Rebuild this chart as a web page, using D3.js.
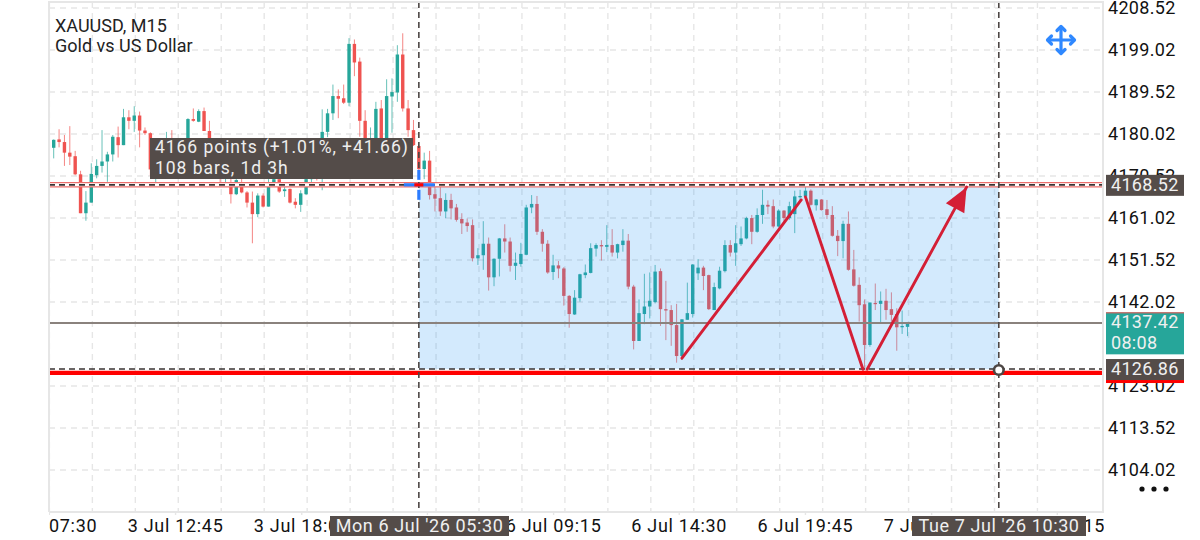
<!DOCTYPE html>
<html>
<head>
<meta charset="utf-8">
<script src="https://cdn.jsdelivr.net/npm/d3@7"></script>
<style>
  html, body { margin: 0; padding: 0; background: #fff; }
  svg { display: block; }
  text { font-family: Roboto, sans-serif; }
</style>
</head>
<body>
<svg id="chart" width="1200" height="540"></svg>
<script>
// candles, oldest first, 15 minute bars (values under the tooltip are guesses)
const opens = [
  4178.3,4176.9,4178.8,4178.2,4175.8,4175.0,4170.9,4162.1,4164.5,4170.7,
  4172.8,4173.8,4175.4,4179.3,4177.5,4183.8,4183.0,4184.2,4180.8,4180.2,
  4170.5,4175.0,4175.0,4178.5,4175.0,4173.0,4176.5,4183.4,4182.8,4185.2,
  4180.7,4175.5,4172.0,4170.0,4168.5,4166.4,4168.9,4166.8,4164.5,4161.9,
  4166.1,4163.6,4168.9,4169.8,4167.1,4167.6,4164.7,4164.0,4166.4,4169.8,
  4171.0,4172.0,4180.5,4184.7,4188.6,4188.1,4187.1,4200.4,4196.4,4183.0,
  4176.0,4177.0,4185.8,4178.0,4188.5,4189.4,4198.0,4185.8,4180.9,4177.3,
  4172.1,4174.0,4166.4,4165.5,4162.5,4165.1,4163.4,4160.8,4160.0,4159.4,
  4151.9,4152.6,4155.2,4147.6,4151.8,4156.4,4155.7,4150.2,4150.6,4152.7,
  4163.4,4164.2,4157.9,4155.2,4148.8,4150.3,4149.6,4143.4,4139.2,4142.9,
  4148.1,4148.6,4154.1,4154.9,4154.5,4154.9,4153.2,4154.9,4155.9,4145.5,
  4133.2,4139.3,4141.0,4142.0,4149.0,4140.4,4140.2,4136.8,4129.8,4138.0,
  4139.3,4148.5,4149.8,4148.1,4140.2,4145.1,4149.0,4154.9,4153.2,4155.1,
  4156.4,4161.0,4157.9,4161.7,4164.0,4163.7,4159.1,4162.7,4161.0,4161.9,
  4165.7,4165.9,4167.2,4163.9,4165.2,4163.0,4161.7,4157.0,4155.8,4159.7,
  4149.4,4145.9,4141.5,4132.3,4141.8,4141.6,4142.3,4140.4,4139.3,4136.3,
  4136.4
];
const highs = [
  4178.5,4178.8,4181.1,4179.8,4181.8,4176.2,4171.7,4167.1,4173.4,4174.3,
  4180.9,4176.0,4179.8,4181.7,4185.7,4185.4,4186.3,4185.1,4181.5,4180.4,
  4176.0,4178.0,4180.5,4180.9,4177.0,4177.0,4183.6,4185.8,4185.6,4186.0,
  4183.0,4176.5,4173.0,4173.0,4170.0,4171.0,4170.0,4167.1,4167.0,4166.6,
  4166.6,4169.8,4170.4,4170.7,4168.1,4167.7,4165.5,4167.3,4169.9,4173.0,
  4172.0,4185.6,4185.7,4191.2,4190.1,4191.2,4201.7,4201.4,4197.3,4185.4,
  4181.5,4187.3,4187.7,4192.4,4192.6,4200.1,4202.8,4187.7,4183.2,4177.6,
  4175.8,4176.2,4168.5,4169.0,4166.6,4166.5,4164.2,4162.1,4160.9,4160.7,
  4154.2,4160.3,4156.6,4151.9,4156.5,4159.6,4156.6,4153.2,4155.4,4164.0,
  4166.2,4166.0,4158.5,4156.0,4152.7,4151.3,4149.9,4143.6,4144.7,4148.4,
  4150.5,4155.3,4155.3,4156.0,4159.4,4158.5,4155.2,4158.5,4157.4,4145.9,
  4142.6,4148.4,4148.7,4150.4,4149.6,4146.8,4141.3,4141.6,4138.1,4146.4,
  4150.6,4151.7,4150.2,4148.2,4146.4,4150.0,4156.0,4156.0,4159.4,4159.1,
  4161.3,4161.7,4163.2,4167.4,4165.0,4165.2,4163.0,4162.8,4164.7,4167.2,
  4167.4,4168.1,4167.5,4165.3,4165.3,4165.1,4163.7,4158.3,4160.4,4162.5,
  4153.8,4147.6,4142.6,4141.9,4146.2,4144.4,4145.0,4144.2,4140.6,4140.1,
  4137.2
];
const lows = [
  4176.8,4174.5,4177.0,4172.8,4173.0,4170.7,4162.1,4160.4,4164.5,4170.0,
  4171.3,4169.2,4173.8,4174.7,4177.5,4181.1,4180.5,4177.0,4179.8,4170.5,
  4168.9,4173.0,4173.0,4173.0,4172.0,4172.0,4176.0,4182.8,4182.7,4180.7,
  4174.0,4171.0,4169.0,4169.0,4164.3,4166.2,4166.6,4163.4,4155.3,4161.2,
  4163.4,4163.6,4168.5,4166.7,4165.8,4164.3,4163.2,4162.4,4166.2,4169.0,
  4169.5,4167.3,4179.3,4183.2,4183.6,4186.8,4186.3,4193.1,4179.4,4174.0,
  4175.0,4176.0,4177.0,4177.0,4180.3,4187.3,4185.1,4179.4,4177.3,4171.0,
  4169.8,4165.2,4162.5,4161.5,4161.0,4160.7,4160.2,4157.4,4157.9,4151.2,
  4150.4,4149.3,4144.6,4145.6,4147.8,4153.2,4148.9,4147.0,4150.0,4152.6,
  4162.1,4157.2,4153.4,4148.4,4147.0,4147.4,4141.2,4136.2,4139.1,4142.1,
  4147.4,4148.5,4152.3,4151.4,4153.3,4152.3,4151.9,4153.4,4144.9,4131.3,
  4133.2,4137.0,4138.3,4141.7,4136.6,4133.4,4132.1,4128.3,4128.9,4138.0,
  4138.5,4147.0,4144.7,4140.2,4140.2,4144.9,4148.7,4152.3,4150.2,4154.7,
  4156.2,4155.1,4157.7,4159.7,4161.9,4158.7,4158.9,4160.2,4160.6,4157.6,
  4165.1,4165.5,4163.8,4162.7,4162.7,4160.8,4156.8,4152.4,4151.9,4149.1,
  4145.5,4137.6,4127.0,4131.9,4140.2,4137.4,4138.0,4137.6,4131.0,4134.8,
  4134.3
];
const closes = [
  4176.9,4178.7,4178.2,4175.8,4174.9,4170.9,4162.1,4164.5,4171.0,4172.8,
  4173.8,4175.4,4179.4,4177.5,4183.8,4183.0,4184.2,4180.8,4180.2,4172.0,
  4175.0,4177.0,4178.5,4175.0,4173.0,4176.0,4183.4,4183.0,4185.2,4180.7,
  4175.5,4172.0,4170.0,4172.0,4166.4,4169.6,4166.8,4164.5,4161.9,4166.1,
  4163.6,4168.1,4169.8,4167.0,4167.5,4164.5,4164.0,4166.6,4169.8,4171.0,
  4170.5,4180.5,4184.7,4188.6,4188.0,4187.1,4200.4,4196.2,4183.0,4175.6,
  4179.0,4185.7,4178.0,4188.6,4189.5,4198.0,4185.8,4180.9,4177.5,4172.1,
  4174.0,4166.2,4165.4,4162.5,4165.1,4163.2,4160.6,4159.8,4159.2,4151.9,
  4152.6,4155.2,4147.6,4151.8,4156.4,4155.7,4150.2,4150.9,4152.9,4163.4,
  4164.2,4157.9,4155.2,4148.7,4150.3,4149.6,4143.4,4139.3,4143.0,4148.3,
  4148.7,4154.2,4154.9,4154.6,4154.9,4153.2,4155.1,4155.9,4145.5,4133.2,
  4139.5,4141.0,4142.3,4148.9,4140.4,4140.1,4136.8,4129.8,4138.1,4139.5,
  4150.5,4149.8,4147.9,4140.4,4145.4,4149.1,4154.9,4153.2,4155.3,4156.4,
  4161.0,4157.9,4161.7,4164.0,4163.6,4159.1,4162.7,4161.0,4163.7,4165.9,
  4166.0,4167.2,4164.0,4165.2,4162.8,4161.7,4157.0,4155.8,4159.7,4149.3,
  4145.7,4141.3,4132.3,4141.9,4141.6,4142.3,4140.2,4139.1,4136.3,4136.6,
  4137.2
];

const priceTicks = [4208.52,4199.02,4189.52,4180.02,4170.52,4161.02,4151.52,4142.02,4123.02,4113.52,4104.02];
const timeBars = [0.1,23.6,47.1,70.5,94,117.4,140.9,164.4,187.8];
const timeLabels = ["3 Jul 07:30","3 Jul 12:45","3 Jul 18:00","6 Jul 04:00","6 Jul 09:15","6 Jul 14:30","6 Jul 19:45","7 Jul 01:00","7 Jul 06:15"];

// drawing objects on the chart
const measureStartBar = 69, measureEndBar = 177;
const upperLevel = 4168.52, lowerLevel = 4126.86, lastPrice = 4137.42, redLine = 4126.0;
const zigzagBars = [[118,140.2],[141,151.7],[152.5,171]];
const zigzagPrices = [[4129.3,4165.1],[4165.8,4126.8],[4126.8,4168.0]];

const red = "#ef5350", teal = "#26a69a", darkBox = "#544c49", gridCol = "#e6e6e6";
const plotL = 49, plotR = 1103, plotT = 2, plotB = 512;

const svg = d3.select("#chart");
const x = d3.scaleLinear().domain([0, 196.5]).range([48.33, 1103.5]);
const y = d3.scaleLinear().domain([4104.02, 4208.52]).range([470, 8]);

svg.append("clipPath").attr("id", "plot").append("rect")
  .attr("x", plotL).attr("y", plotT).attr("width", plotR - plotL).attr("height", plotB - plotT);
svg.append("clipPath").attr("id", "timeClip").append("rect")
  .attr("x", plotL).attr("y", plotB).attr("width", plotR - plotL + 1).attr("height", 28);

const plot = svg.append("g").attr("clip-path", "url(#plot)");

// grid
const gridBars = d3.range(0.2, 190, 8);
plot.selectAll(".gx").data(gridBars).enter().append("line")
  .attr("x1", d => x(d)).attr("x2", d => x(d)).attr("y1", plotT).attr("y2", plotB)
  .attr("stroke", gridCol).attr("stroke-width", 1.4).attr("stroke-dasharray", "6 5");
plot.selectAll(".gy").data(priceTicks).enter().append("line")
  .attr("x1", plotL).attr("x2", plotR).attr("y1", d => y(d)).attr("y2", d => y(d))
  .attr("stroke", gridCol).attr("stroke-width", 1.4).attr("stroke-dasharray", "6 5");

// candles
const bars = plot.selectAll(".bar").data(opens).enter().append("g");
bars.append("line")
  .attr("x1", (d, i) => x(i)).attr("x2", (d, i) => x(i))
  .attr("y1", (d, i) => y(highs[i])).attr("y2", (d, i) => y(lows[i]))
  .attr("stroke", (d, i) => closes[i] >= d ? teal : red)
  .attr("stroke-width", 1).attr("stroke-opacity", 0.7);
bars.append("rect")
  .attr("x", (d, i) => x(i) - 1.7).attr("width", 3.4)
  .attr("y", (d, i) => y(Math.max(d, closes[i])))
  .attr("height", (d, i) => Math.max(1.2, Math.abs(y(d) - y(closes[i]))))
  .attr("fill", (d, i) => closes[i] >= d ? teal : red);

// measure rectangle
plot.append("rect")
  .attr("x", x(measureStartBar)).attr("width", x(measureEndBar) - x(measureStartBar))
  .attr("y", y(upperLevel)).attr("height", y(lowerLevel) - y(upperLevel))
  .attr("fill", "rgba(33,150,243,0.2)");

// upper level: red double line with a dashed middle
const hline = (price, col, w, dash) => plot.append("line")
  .attr("x1", plotL).attr("x2", plotR).attr("y1", y(price)).attr("y2", y(price))
  .attr("stroke", col).attr("stroke-width", w).attr("stroke-dasharray", dash || null);
hline(upperLevel, "#ee6f6d", 5.5);
hline(upperLevel, "#ffffff", 3);
hline(upperLevel, "#3a3433", 1.7, "6 4");

// last price, red and teal lines overlap in the original so it reads grey
const lastY = Math.round(y(lastPrice));
plot.append("line").attr("x1", plotL).attr("x2", plotR)
  .attr("y1", lastY + 1).attr("y2", lastY + 1)
  .attr("stroke", "#8a827d").attr("stroke-width", 2);

// lower level
hline(redLine, "#ff0000", 4.3);
hline(lowerLevel, "#3a3433", 1.5, "6 4");

// hand drawn zigzag + arrow
const lineCol = "#d41f36";
zigzagBars.forEach((b, k) => {
  plot.append("line")
    .attr("x1", x(b[0])).attr("y1", y(zigzagPrices[k][0]))
    .attr("x2", x(b[1])).attr("y2", y(zigzagPrices[k][1]))
    .attr("stroke", lineCol).attr("stroke-width", 2.9).attr("stroke-linecap", "round");
});
const tipX = x(zigzagBars[2][1]), tipY = y(zigzagPrices[2][1]);
const ang = Math.atan2(y(zigzagPrices[2][0]) - tipY, x(zigzagBars[2][0]) - tipX);
const headL = 24, headW = 10.5;
const bx = tipX + headL * Math.cos(ang), by = tipY + headL * Math.sin(ang);
plot.append("polygon")
  .attr("points", [
    [tipX, tipY],
    [bx - headW * Math.sin(ang), by + headW * Math.cos(ang)],
    [bx + headW * Math.sin(ang), by - headW * Math.cos(ang)]
  ].map(p => p.join(",")).join(" "))
  .attr("fill", lineCol);

// vertical dashed markers
[measureStartBar, measureEndBar].forEach(b => {
  plot.append("line").attr("x1", x(b)).attr("x2", x(b)).attr("y1", plotT).attr("y2", plotB)
    .attr("stroke", "#4d4745").attr("stroke-width", 1.6).attr("stroke-dasharray", "6 4");
});

// crosshair at measure start
const cx = x(measureStartBar), cy = y(upperLevel);
const blue = "#2b7cff";
svg.append("line").attr("x1", cx - 15).attr("x2", cx + 16).attr("y1", cy).attr("y2", cy)
  .attr("stroke", blue).attr("stroke-width", 3.2);
svg.append("line").attr("x1", cx - 4.5).attr("x2", cx + 4.5).attr("y1", cy).attr("y2", cy)
  .attr("stroke", "#ff0000").attr("stroke-width", 3.2);
[[-15, -5], [5, 15]].forEach(s => {
  svg.append("line").attr("x1", cx).attr("x2", cx).attr("y1", cy + s[0]).attr("y2", cy + s[1])
    .attr("stroke", blue).attr("stroke-width", 3.2);
});

// end handle
svg.append("circle").attr("cx", x(measureEndBar)).attr("cy", y(lowerLevel) + 1).attr("r", 4.8)
  .attr("fill", "#fff").attr("stroke", "#4d4745").attr("stroke-width", 2.6);

// tooltip
svg.append("rect").attr("x", 150).attr("y", 138).attr("width", 263).attr("height", 41).attr("fill", darkBox);
svg.append("text").attr("x", 155).attr("y", 153).attr("fill", "#eeeeee").attr("font-size", 17.5)
  .attr("letter-spacing", 0.95).text("4166 points (+1.01%, +41.66)");
svg.append("text").attr("x", 155).attr("y", 174).attr("fill", "#eeeeee").attr("font-size", 17.5)
  .attr("letter-spacing", 0.95).text("108 bars, 1d 3h");

// title
svg.append("text").attr("x", 55).attr("y", 32).attr("fill", "#222").attr("font-size", 18).text("XAUUSD, M15");
svg.append("text").attr("x", 55).attr("y", 52).attr("fill", "#222").attr("font-size", 18).text("Gold vs US Dollar");

// frame
svg.append("path").attr("d", `M${plotL},${plotB}V${plotT}H${plotR}V${plotB}H${plotL}`)
  .attr("fill", "none").attr("stroke", gridCol).attr("stroke-width", 2);

// axes
const yAxis = d3.axisRight(y).tickValues(priceTicks).tickFormat(d3.format(".2f")).tickSize(0).tickPadding(5);
const yG = svg.append("g").attr("transform", `translate(${plotR},0)`).call(yAxis);
yG.select(".domain").remove();
yG.selectAll("text").attr("font-size", 18).attr("fill", "#111").attr("letter-spacing", 0.3).style("font-family", "Roboto, sans-serif");

const xAxis = d3.axisBottom(x).tickValues(timeBars).tickFormat((d, i) => timeLabels[i]).tickSize(3).tickPadding(4);
const xWrap = svg.append("g").attr("clip-path", "url(#timeClip)");
const xG = xWrap.append("g").attr("transform", `translate(0,${plotB})`).call(xAxis);
xG.select(".domain").remove();
xG.selectAll("line").attr("stroke", gridCol).attr("stroke-width", 1.4);
xG.selectAll("text").attr("font-size", 18).attr("fill", "#111").attr("letter-spacing", 0.7).style("font-family", "Roboto, sans-serif");

// price boxes on the axis
const priceBox = (price, col, h) => {
  svg.append("rect").attr("x", 1106).attr("width", 78).attr("y", y(price) - 10).attr("height", h).attr("fill", col);
  svg.append("text").attr("x", 1111).attr("y", y(price) + 6).attr("fill", "#f0f0f0")
    .attr("font-size", 18).attr("letter-spacing", 0.3).text(d3.format(".2f")(price));
};
priceBox(upperLevel, darkBox, 21);
svg.append("rect").attr("x", 1106).attr("width", 78).attr("y", y(lastPrice) - 10).attr("height", 42).attr("fill", teal);
svg.append("rect").attr("x", 1106).attr("width", 78).attr("y", y(lastPrice) - 10).attr("height", 1).attr("fill", red);
svg.append("text").attr("x", 1111).attr("y", y(lastPrice) + 6).attr("fill", "#f0f0f0")
  .attr("font-size", 18).attr("letter-spacing", 0.3).text(d3.format(".2f")(lastPrice));
svg.append("text").attr("x", 1111).attr("y", y(lastPrice) + 27).attr("fill", "#f0f0f0")
  .attr("font-size", 18).attr("letter-spacing", 0.3).text("08:08");
svg.append("rect").attr("x", 1106).attr("width", 78).attr("y", y(lowerLevel) + 11).attr("height", 3).attr("fill", "#ff0000");
priceBox(lowerLevel, darkBox, 21);

// time boxes on the axis
const timeBox = (label, bx1, bx2) => {
  svg.append("rect").attr("x", bx1).attr("width", bx2 - bx1).attr("y", 516).attr("height", 20).attr("fill", darkBox);
  svg.append("text").attr("x", (bx1 + bx2) / 2).attr("y", 532).attr("text-anchor", "middle").attr("fill", "#f0f0f0")
    .attr("font-size", 18).attr("letter-spacing", 0.6).text(label);
};
timeBox("Mon 6 Jul '26 05:30", 330, 509);
timeBox("Tue 7 Jul '26 10:30", 912, 1086);

// move icon
const icon = svg.append("g").attr("transform", "translate(1061,40)").attr("stroke", "#2f88ff")
  .attr("fill", "none").attr("stroke-width", 3.2).attr("stroke-linecap", "round").attr("stroke-linejoin", "round");
icon.append("path").attr("d", "M-13,0H13M0,-13V13");
icon.append("path").attr("d", "M-4,-9.5L0,-13.5L4,-9.5M-4,9.5L0,13.5L4,9.5M-9.5,-4L-13.5,0L-9.5,4M9.5,-4L13.5,0L9.5,4");

// overflow dots
[1142, 1154, 1166].forEach(d => {
  svg.append("circle").attr("cx", d).attr("cy", 489).attr("r", 2.6).attr("fill", "#111");
});
</script>
</body>
</html>
